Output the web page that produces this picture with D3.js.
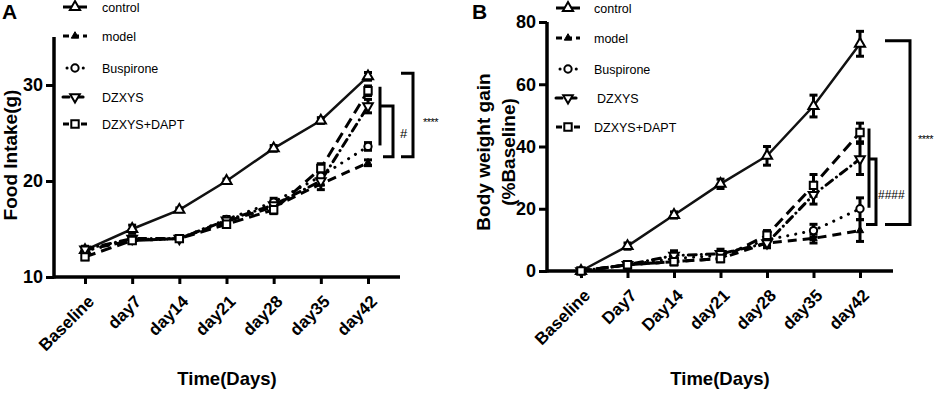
<!DOCTYPE html>
<html>
<head>
<meta charset="utf-8">
<script src="https://cdn.jsdelivr.net/npm/d3@7"></script>
<style>
  body { margin: 0; background: #fff; }
  svg { font-family: "Liberation Sans", Arial, sans-serif; }
</style>
</head>
<body>
<script>
// ---- data ----
let groups = ["control", "model", "Buspirone", "DZXYS", "DZXYS+DAPT"];
let daysA = ["Baseline", "day7", "day14", "day21", "day28", "day35", "day42"];
let daysB = ["Baseline", "Day7", "Day14", "day21", "day28", "day35", "day42"];

// food intake (g)
let foodControl = [12.8, 15.0, 17.0, 20.0, 23.4, 26.3, 30.9];
let foodModel   = [12.8, 13.8, 14.0, 15.8, 17.3, 19.7, 21.9];
let foodBusp    = [12.7, 13.9, 14.0, 16.0, 17.8, 20.5, 23.6];
let foodDzxys   = [12.9, 14.0, 14.0, 15.9, 17.5, 20.0, 27.8];
let foodDapt    = [12.1, 13.8, 14.0, 15.5, 17.0, 21.3, 29.4];
let foodControlErr = [0.3, 0.4, 0.2, 0.2, 0.3, 0.3, 0.4];
let foodModelErr   = [0.3, 0.3, 0.2, 0.3, 0.3, 0.6, 0.3];
let foodBuspErr    = [0.3, 0.3, 0.2, 0.3, 0.4, 0.4, 0.4];
let foodDzxysErr   = [0.3, 0.3, 0.2, 0.3, 0.4, 0.4, 0.7];
let foodDaptErr    = [0.3, 0.3, 0.2, 0.3, 0.4, 0.5, 0.5];

// body weight gain (% baseline)
let bwControl = [0, 8, 18, 28, 37, 53, 73];
let bwModel   = [0, 2, 3, 4, 9, 10.5, 13];
let bwBusp    = [0, 2, 4, 5, 10, 13, 20];
let bwDzxys   = [0, 2, 5, 5.5, 9, 24.5, 36];
let bwDapt    = [0, 2, 3, 4, 11.5, 27.5, 44.5];
let bwControlErr = [0, 1, 1, 1.5, 3, 3.5, 4];
let bwModelErr   = [0, 1, 1, 1, 1.5, 1.5, 3.5];
let bwBuspErr    = [0, 1, 1, 1, 1.5, 2, 3.5];
let bwDzxysErr   = [0, 1, 1.5, 1.5, 1.5, 3, 5];
let bwDaptErr    = [0, 1, 1, 1, 1.5, 3.5, 3];

let ticksA = [10, 20, 30];
let ticksB = [0, 20, 40, 60, 80];

let width = 941;
let height = 393;
let svg = d3.select("body").append("svg")
            .attr("width", width)
            .attr("height", height);

let dashes = ["none", "9,6", "0.1,8", "8,5,0.1,5", "11,6"];
let lineColor = ["#111", "#000", "#000", "#000", "#000"];

function marker(g, k) {
  let s = g.append("path").attr("stroke", "#000").attr("stroke-width", 2);
  if (k === 0) s.attr("d", d3.symbol().type(d3.symbolTriangle).size(45)()).attr("fill", "#fff");
  if (k === 1) s.attr("d", d3.symbol().type(d3.symbolTriangle).size(24)()).attr("fill", "#000").attr("stroke-width", 1);
  if (k === 2) s.attr("d", d3.symbol().type(d3.symbolCircle).size(42)()).attr("fill", "#fff");
  if (k === 3) s.attr("d", d3.symbol().type(d3.symbolTriangle).size(40)()).attr("fill", "#fff").attr("transform", "rotate(180)");
  if (k === 4) s.attr("d", d3.symbol().type(d3.symbolSquare).size(55)()).attr("fill", "#fff");
}

function drawPanel(p) {
  let x = d3.scalePoint().domain(p.days).range([p.x0, p.x1]);
  let y = d3.scaleLinear().domain(p.yDomain).range([p.yBottom, p.yTop]);
  let g = svg.append("g");

  // axes
  let ax = g.append("g").attr("transform", "translate(0," + p.yBottom + ")")
            .call(d3.axisBottom(x).tickSize(7).tickSizeOuter(0).tickPadding(6));
  ax.select(".domain").remove();
  ax.selectAll(".tick line").attr("stroke", "#000").attr("stroke-width", 3);
  ax.selectAll(".tick text")
    .attr("font-size", 17).attr("font-weight", "bold").attr("fill", "#000")
    .attr("text-anchor", "end")
    .attr("transform", "translate(-8,8) rotate(-45)")
    .attr("dy", "0.7em");
  g.append("line").attr("x1", p.axisLeft).attr("x2", p.axisRight)
   .attr("y1", p.yBottom).attr("y2", p.yBottom)
   .attr("stroke", "#000").attr("stroke-width", 3.5);

  let ay = g.append("g").attr("transform", "translate(" + p.axisLeft + ",0)")
            .call(d3.axisLeft(y).tickValues(p.ticks).tickSize(8).tickSizeOuter(0).tickPadding(3));
  ay.select(".domain").remove();
  ay.selectAll(".tick line").attr("stroke", "#000").attr("stroke-width", 3);
  ay.selectAll(".tick text").attr("font-size", 18).attr("font-weight", "bold").attr("fill", "#000");
  g.append("line").attr("x1", p.axisLeft).attr("x2", p.axisLeft)
   .attr("y1", p.yBottom + 1.5).attr("y2", y(p.yDomain[1]))
   .attr("stroke", "#000").attr("stroke-width", 3.5);

  // series: lines, error bars, markers
  let line = d3.line().x((d, i) => x(p.days[i])).y(d => y(d));
  p.series.forEach(function(s, k) {
    g.append("path").datum(s)
     .attr("d", line).attr("fill", "none")
     .attr("stroke", lineColor[k]).attr("stroke-width", k === 0 ? 2.5 : 3)
     .attr("stroke-linecap", k === 2 || k === 3 ? "round" : "butt")
     .attr("stroke-dasharray", dashes[k]);
  });
  p.series.forEach(function(s, k) {
    let e = p.errors[k];
    s.forEach(function(v, i) {
      if (e[i] <= 0) return;
      let cx = x(p.days[i]);
      let eg = g.append("g").attr("stroke", "#000").attr("stroke-width", 3);
      eg.append("line").attr("x1", cx).attr("x2", cx).attr("y1", y(v - e[i])).attr("y2", y(v + e[i]));
      eg.append("line").attr("x1", cx - 4).attr("x2", cx + 4).attr("y1", y(v - e[i])).attr("y2", y(v - e[i]));
      eg.append("line").attr("x1", cx - 4).attr("x2", cx + 4).attr("y1", y(v + e[i])).attr("y2", y(v + e[i]));
    });
  });
  p.series.forEach(function(s, k) {
    s.forEach(function(v, i) {
      marker(g.append("g").attr("transform", "translate(" + x(p.days[i]) + "," + y(v) + ")"), k);
    });
  });

  // significance brackets (ends taken from day42 means)
  let last = s => y(s[s.length - 1]);
  let b = p.br;
  let lx = x(p.days[p.days.length - 1]);
  let bs = g.append("g").attr("stroke", "#000").attr("stroke-width", 3).attr("fill", "none");
  bs.append("line").attr("x1", lx + b.outer).attr("x2", lx + b.outer)
    .attr("y1", last(p.series[4]) - 4).attr("y2", last(p.series[2]) - 1);
  bs.append("path").attr("d",
    "M" + (lx + b.outer) + "," + last(p.series[3]) +
    "H" + (lx + b.inner) + "V" + (last(p.series[1]) - 6) +
    "H" + (lx + b.innerFoot));
  bs.append("path").attr("d",
    "M" + (lx + b.starL) + "," + (last(p.series[0]) - 3) +
    "H" + (lx + b.starR) + "V" + (last(p.series[1]) - 6) +
    "H" + (lx + b.starL));
  g.append("text").attr("x", lx + b.hashX).attr("y", (last(p.series[3]) + last(p.series[1])) / 2 + 4)
   .attr("font-size", p.hashSize).text(p.hash);
  g.append("text").attr("x", lx + b.starX).attr("y", (last(p.series[0]) + last(p.series[1])) / 2 + 6)
   .attr("font-size", 11).attr("letter-spacing", "-0.5").text("****");

  // legend
  p.series.forEach(function(s, k) {
    let ly = p.legY[k];
    let lg = g.append("g");
    lg.append("line").attr("x1", p.legX - 12).attr("x2", p.legX + 12).attr("y1", ly).attr("y2", ly)
      .attr("stroke", "#000").attr("stroke-width", 3)
      .attr("stroke-dasharray", ["none", "6,4", "0.1,8", "6,4,0.1,4", "6,12"][k])
      .attr("stroke-dashoffset", k === 2 ? -4 : 0)
      .attr("stroke-linecap", k === 2 || k === 3 ? "round" : "butt");
    marker(lg.append("g").attr("transform", "translate(" + p.legX + "," + ly + ")"), k);
    lg.append("text").attr("x", p.legTextX + (k === 3 ? p.dzShift : 0)).attr("y", ly + 4.5)
      .attr("font-size", 12.5).text(groups[k]);
  });

  // titles
  g.append("text").attr("x", p.letterX).attr("y", 19).attr("font-size", 21).attr("font-weight", "bold").text(p.letter);
  g.append("text").attr("x", (p.axisLeft + p.axisRight) / 2).attr("y", 385)
   .attr("text-anchor", "middle").attr("font-size", 18.5).attr("font-weight", "bold").text("Time(Days)");
  p.yLabel.forEach(function(t, i) {
    g.append("text").attr("transform", "translate(" + p.yLabelX[i] + "," + p.yLabelY + ") rotate(-90)")
     .attr("text-anchor", "middle").attr("font-size", 19).attr("font-weight", "bold").text(t);
  });
}

drawPanel({
  days: daysA, x0: 85, x1: 368, axisLeft: 54, axisRight: 400,
  yDomain: [10, 35], yBottom: 277, yTop: 37, ticks: ticksA,
  series: [foodControl, foodModel, foodBusp, foodDzxys, foodDapt],
  errors: [foodControlErr, foodModelErr, foodBuspErr, foodDzxysErr, foodDaptErr],
  br: { outer: 12, inner: 25, innerFoot: 15, starL: 33, starR: 45, hashX: 32, starX: 55 },
  hash: "#", hashSize: 13,
  legX: 75, legTextX: 102, dzShift: 0, legY: [7, 36, 68, 97, 124],
  letter: "A", letterX: 2,
  yLabel: ["Food Intake(g)"], yLabelX: [17], yLabelY: 155
});

drawPanel({
  days: daysB, x0: 581, x1: 860, axisLeft: 547, axisRight: 893,
  yDomain: [0, 80], yBottom: 271, yTop: 22, ticks: ticksB,
  series: [bwControl, bwModel, bwBusp, bwDzxys, bwDapt],
  errors: [bwControlErr, bwModelErr, bwBuspErr, bwDzxysErr, bwDaptErr],
  br: { outer: 9, inner: 16, innerFoot: 6, starL: 25, starR: 50, hashX: 18, starX: 58 },
  hash: "####", hashSize: 12,
  legX: 568, legTextX: 594, dzShift: 3, legY: [8, 38, 69, 98, 127],
  letter: "B", letterX: 472,
  yLabel: ["Body weight gain", "(%Baseline)"], yLabelX: [490, 515], yLabelY: 152
});
</script>
</body>
</html>
